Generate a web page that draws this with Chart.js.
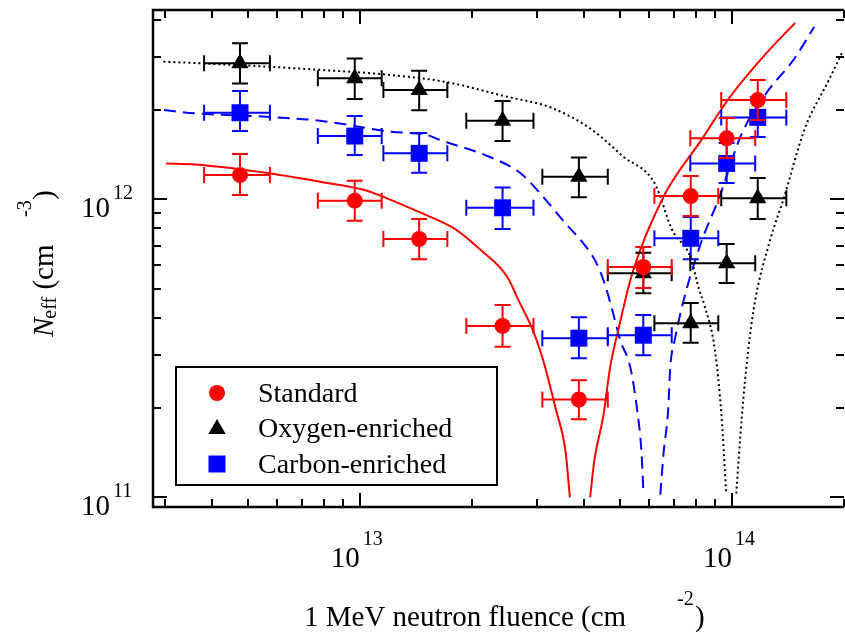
<!DOCTYPE html>
<html>
<head>
<meta charset="utf-8">
<script src="https://cdn.jsdelivr.net/npm/chart.js@4/dist/chart.umd.min.js"></script>
<style>
  html, body { margin: 0; padding: 0; background: #fff; }
</style>
</head>
<body>
<canvas id="neffChart" width="845" height="635"></canvas>
<script>
// N_eff vs 1 MeV neutron fluence for three kinds of silicon (log-log)

// measured points, shared fluence positions and horizontal error bars
var fluence   = [4.77e12, 9.7e12, 1.445e13, 2.42e13, 3.88e13, 5.78e13, 7.75e13, 9.68e13, 1.173e14];
var fluenceLo = [3.82e12, 7.72e12, 1.158e13, 1.934e13, 3.095e13, 4.64e13, 6.19e13, 7.73e13, 9.36e13];
var fluenceHi = [5.74e12, 1.146e13, 1.72e13, 2.93e13, 4.64e13, 6.89e13, 9.19e13, 1.155e14, 1.40e14];

var standardNeff = [1.206e12, 9.9e11, 7.36e11, 3.76e11, 2.13e11, 5.93e11, 1.026e12, 1.602e12, 2.154e12];
var standardLo   = [1.034e12, 8.48e11, 6.29e11, 3.20e11, 1.83e11, 5.04e11, 8.79e11, 1.376e12, 1.845e12];
var standardHi   = [1.419e12, 1.154e12, 8.59e11, 4.42e11, 2.47e11, 6.92e11, 1.197e12, 1.874e12, 2.513e12];

var oxygenNeff = [2.86e12, 2.55e12, 2.33e12, 1.836e12, 1.191e12, 5.65e11, 3.84e11, 6.10e11, 1.008e12];
var oxygenLo   = [2.45e12, 2.17e12, 1.99e12, 1.569e12, 1.016e12, 4.84e11, 3.30e11, 5.24e11, 8.59e11];
var oxygenHi   = [3.34e12, 2.97e12, 2.70e12, 2.14e12, 1.383e12, 6.62e11, 4.49e11, 7.08e11, 1.179e12];

var carbonNeff = [1.953e12, 1.631e12, 1.427e12, 9.37e11, 3.42e11, 3.50e11, 7.40e11, 1.32e12, 1.884e12];
var carbonLo   = [1.695e12, 1.408e12, 1.228e12, 7.95e11, 2.93e11, 3.00e11, 6.30e11, 1.134e12, 1.618e12];
var carbonHi   = [2.31e12, 1.904e12, 1.669e12, 1.097e12, 4.02e11, 4.09e11, 8.72e11, 1.545e12, 2.20e12];

// model curves (|N_eff|), null = break where the curve drops below the axis
var standardFitX = [3.02e12, 3.61e12, 5.78e12, 7.82e12, 1.03e13, 1.184e13, 1.437e13, 1.792e13, 2.114e13, 2.49e13, 2.67e13, 2.94e13, 3.11e13, 3.37e13, 3.57e13, 3.67e13,
                    3.9e13, 4.16e13, 4.27e13, 4.51e13, 4.71e13, 4.95e13, 5.40e13, 6.55e13, 8.27e13, 9.89e13, 1.236e14, 1.479e14];
var standardFitY = [1.32e12, 1.31e12, 1.222e12, 1.146e12, 1.075e12, 1.008e12, 9.09e11, 7.99e11, 6.76e11, 5.50e11, 4.59e11, 3.56e11, 2.89e11, 1.96e11, 1.44e11, 1.0e11,
                    null, 1.0e11, 1.334e11, 1.865e11, 2.74e11, 3.64e11, 5.65e11, 1.02e12, 1.58e12, 2.21e12, 3.09e12, 3.91e12];

var oxygenFitX = [2.97e12, 5.62e12, 7.82e12, 1.151e13, 1.695e13, 2.49e13, 3.29e13, 4.22e13, 5.11e13, 6.20e13, 6.91e13, 7.73e13, 8.17e13, 8.43e13, 9.0e13, 9.38e13, 9.65e13,
                  9.9e13, 1.027e14, 1.063e14, 1.106e14, 1.155e14, 1.266e14, 1.382e14, 1.564e14, 1.82e14, 1.98e14];
var oxygenFitY = [2.90e12, 2.79e12, 2.72e12, 2.63e12, 2.48e12, 2.21e12, 2.025e12, 1.708e12, 1.39e12, 1.132e12, 7.89e11, 6.42e11, 4.96e11, 4.42e11, 3.12e11, 1.865e11, 1.03e11,
                  null, 1.03e11, 1.865e11, 3.12e11, 4.59e11, 7.3e11, 1.02e12, 1.708e12, 2.51e12, 3.12e12];

var carbonFitX = [2.98e12, 3.61e12, 5.62e12, 7.82e12, 1.216e13, 1.518e13, 1.647e13, 2.23e13, 2.71e13, 3.11e13, 3.57e13, 3.99e13, 4.33e13, 4.58e13, 4.77e13, 5.01e13, 5.33e13, 5.55e13, 5.71e13, 5.79e13,
                  6.1e13, 6.42e13, 6.55e13, 6.74e13, 6.83e13, 7.02e13, 7.42e13, 8.22e13, 9.25e13, 1.059e14, 1.236e14, 1.461e14, 1.663e14];
var carbonFitY = [1.994e12, 1.944e12, 1.893e12, 1.836e12, 1.686e12, 1.644e12, 1.581e12, 1.39e12, 1.222e12, 1.02e12, 8.31e11, 7.12e11, 6.10e11, 5.09e11, 4.25e11, 3.37e11, 2.74e11, 2.01e11, 1.44e11, 1.02e11,
                  null, 1.02e11, 1.405e11, 1.963e11, 2.74e11, 3.37e11, 4.59e11, 7.03e11, 1.018e12, 1.644e12, 2.27e12, 2.93e12, 3.79e12];

// axis ticks
var xMajorTicks = [1e13, 1e14];
var xMajorExp   = ['13', '14'];
var xMinorTicks = [3e12, 4e12, 5e12, 6e12, 7e12, 8e12, 9e12, 2e13, 3e13, 4e13, 5e13, 6e13, 7e13, 8e13, 9e13, 2e14];
var yMajorTicks = [1e11, 1e12];
var yMajorExp   = ['11', '12'];
var yMinorTicks = [2e11, 3e11, 4e11, 5e11, 6e11, 7e11, 8e11, 9e11, 2e12, 3e12, 4e12];

var legendNames = ['Standard', 'Oxygen-enriched', 'Carbon-enriched'];

var RED = '#ff0000', BLUE = '#0000ff', BLACK = '#000000';
var SERIF = '"Liberation Serif", "Times New Roman", serif';

function pairs(xs, ys) {
    return xs.map(function (x, i) { return { x: x, y: ys[i] }; });
}

function curve(xs, ys, color, dash) {
    return {
        type: 'line',
        data: pairs(xs, ys),
        borderColor: color,
        borderWidth: 2,
        borderDash: dash,
        pointRadius: 0,
        fill: false,
        spanGaps: false,
        cubicInterpolationMode: 'monotone',
        order: 5
    };
}

function markers(name, ys, lo, hi, color, style, radius) {
    return {
        label: name,
        data: pairs(fluence, ys),
        yLo: lo,
        yHi: hi,
        backgroundColor: color,
        borderColor: color,
        borderWidth: 0,
        pointStyle: style,
        pointRadius: radius,
        pointHoverRadius: radius,
        order: 1
    };
}

// error bars are drawn right before the markers of each series
var errorBars = {
    id: 'errorBars',
    beforeDatasetDraw: function (chart, args) {
        var ds = chart.data.datasets[args.index];
        if (!ds.yLo) return;
        var ctx = chart.ctx, xs = chart.scales.x, ys = chart.scales.y;
        var cap = 8;
        ctx.save();
        ctx.strokeStyle = ds.borderColor;
        ctx.lineWidth = 2;
        ds.data.forEach(function (p, i) {
            var px = xs.getPixelForValue(p.x), py = ys.getPixelForValue(p.y);
            var x0 = xs.getPixelForValue(fluenceLo[i]), x1 = xs.getPixelForValue(fluenceHi[i]);
            var y0 = ys.getPixelForValue(ds.yLo[i]), y1 = ys.getPixelForValue(ds.yHi[i]);
            ctx.beginPath();
            ctx.moveTo(x0, py); ctx.lineTo(x1, py);
            ctx.moveTo(x0, py - cap); ctx.lineTo(x0, py + cap);
            ctx.moveTo(x1, py - cap); ctx.lineTo(x1, py + cap);
            ctx.moveTo(px, y0); ctx.lineTo(px, y1);
            ctx.moveTo(px - cap, y0); ctx.lineTo(px + cap, y0);
            ctx.moveTo(px - cap, y1); ctx.lineTo(px + cap, y1);
            ctx.stroke();
        });
        ctx.restore();
    }
};

function drawMarker(ctx, style, x, y, color) {
    ctx.fillStyle = color;
    ctx.beginPath();
    if (style === 'circle') {
        ctx.arc(x, y, 8, 0, Math.PI * 2);
    } else if (style === 'triangle') {
        ctx.moveTo(x, y - 9); ctx.lineTo(x + 8.7, y + 6); ctx.lineTo(x - 8.7, y + 6); ctx.closePath();
    } else {
        ctx.rect(x - 8.5, y - 8.5, 17, 17);
    }
    ctx.fill();
}

// frame, inward ticks, power-of-ten labels, axis titles, legend
var frame = {
    id: 'frame',
    afterDraw: function (chart) {
        var ctx = chart.ctx, a = chart.chartArea;
        var xs = chart.scales.x, ys = chart.scales.y;
        ctx.save();
        ctx.strokeStyle = BLACK;
        ctx.lineCap = 'butt';

        ctx.lineWidth = 2.5;
        ctx.beginPath();
        ctx.moveTo(a.right, a.top); ctx.lineTo(a.left, a.top);
        ctx.lineTo(a.left, a.bottom); ctx.lineTo(a.right, a.bottom);
        ctx.stroke();

        ctx.lineWidth = 2;
        function xTick(v, len) {
            var px = Math.round(xs.getPixelForValue(v));
            ctx.moveTo(px, a.bottom); ctx.lineTo(px, a.bottom - len);
            ctx.moveTo(px, a.top); ctx.lineTo(px, a.top + len);
        }
        function yTick(v, len) {
            var py = Math.round(ys.getPixelForValue(v));
            ctx.moveTo(a.left, py); ctx.lineTo(a.left + len, py);
            ctx.moveTo(a.right, py); ctx.lineTo(a.right - len, py);
        }
        ctx.beginPath();
        xMajorTicks.forEach(function (v) { xTick(v, 14); });
        xMinorTicks.forEach(function (v) { xTick(v, 8); });
        yMajorTicks.forEach(function (v) { yTick(v, 14); });
        yMinorTicks.forEach(function (v) { yTick(v, 8); });
        ctx.stroke();

        // tick labels
        ctx.fillStyle = BLACK;
        ctx.textBaseline = 'alphabetic';
        xMajorTicks.forEach(function (v, i) {
            var px = xs.getPixelForValue(v);
            ctx.font = '29px ' + SERIF;
            ctx.textAlign = 'right';
            ctx.fillText('10', px, 567);
            ctx.font = '20px ' + SERIF;
            ctx.textAlign = 'left';
            ctx.fillText(xMajorExp[i], px + 3, 545);
        });
        yMajorTicks.forEach(function (v, i) {
            var py = ys.getPixelForValue(v);
            ctx.font = '29px ' + SERIF;
            ctx.textAlign = 'right';
            ctx.fillText('10', 110, py + 18);
            ctx.font = '20px ' + SERIF;
            ctx.textAlign = 'left';
            ctx.fillText(yMajorExp[i], 113, py);
        });

        // x title
        ctx.textAlign = 'left';
        ctx.font = '29px ' + SERIF;
        ctx.fillText('1 MeV neutron fluence (cm', 304, 626);
        ctx.font = '20px ' + SERIF;
        ctx.fillText('-2', 677, 605);
        ctx.font = '29px ' + SERIF;
        ctx.fillText(')', 695, 626);

        // y title, rotated
        ctx.save();
        ctx.translate(53, 337);
        ctx.rotate(-Math.PI / 2);
        ctx.font = 'italic 29px ' + SERIF;
        ctx.fillText('N', 0, 0);
        var w = ctx.measureText('N').width;
        ctx.font = '20px ' + SERIF;
        ctx.fillText('eff', w - 1, 3);
        w += ctx.measureText('eff').width;
        ctx.font = '29px ' + SERIF;
        ctx.fillText(' (cm', w - 1, 0);
        ctx.font = '20px ' + SERIF;
        ctx.fillText('-3', 120, -22);
        ctx.font = '29px ' + SERIF;
        ctx.fillText(')', 137, 0);
        ctx.restore();

        // legend
        ctx.lineWidth = 2;
        ctx.strokeRect(176, 367, 321, 118);
        var styles = ['circle', 'triangle', 'rect'];
        var colors = [RED, BLACK, BLUE];
        var rowY = [393, 428, 464];
        legendNames.forEach(function (name, i) {
            drawMarker(ctx, styles[i], 217, rowY[i], colors[i]);
            ctx.fillStyle = BLACK;
            ctx.font = '28px ' + SERIF;
            ctx.textAlign = 'left';
            ctx.fillText(name, 258, rowY[i] + 9);
        });
        ctx.restore();
    }
};

document.addEventListener('DOMContentLoaded', function () {
    var canvas = document.getElementById('neffChart');
    new Chart(canvas, {
        type: 'scatter',
        data: {
            datasets: [
                curve(standardFitX, standardFitY, RED, []),
                curve(carbonFitX, carbonFitY, BLUE, [12, 7]),
                curve(oxygenFitX, oxygenFitY, BLACK, [2, 3]),
                markers('Standard', standardNeff, standardLo, standardHi, RED, 'circle', 8),
                markers('Oxygen-enriched', oxygenNeff, oxygenLo, oxygenHi, BLACK, 'triangle', 10),
                markers('Carbon-enriched', carbonNeff, carbonLo, carbonHi, BLUE, 'rect', 12)
            ]
        },
        options: {
            responsive: false,
            animation: false,
            devicePixelRatio: 1,
            layout: { autoPadding: false, padding: { top: 10, right: 1, left: 0, bottom: 0 } },
            plugins: {
                legend: { display: false },
                tooltip: { enabled: false }
            },
            scales: {
                x: {
                    type: 'logarithmic',
                    min: 2.785e12,
                    max: 2.0e14,
                    bounds: 'data',
                    ticks: { display: false },
                    grid: { display: false },
                    border: { display: false },
                    afterFit: function (s) { s.height = 128; }
                },
                y: {
                    type: 'logarithmic',
                    min: 9.28e10,
                    max: 4.32e12,
                    bounds: 'data',
                    ticks: { display: false },
                    grid: { display: false },
                    border: { display: false },
                    afterFit: function (s) { s.width = 153; }
                }
            }
        },
        plugins: [errorBars, frame]
    });
});
</script>
</body>
</html>
